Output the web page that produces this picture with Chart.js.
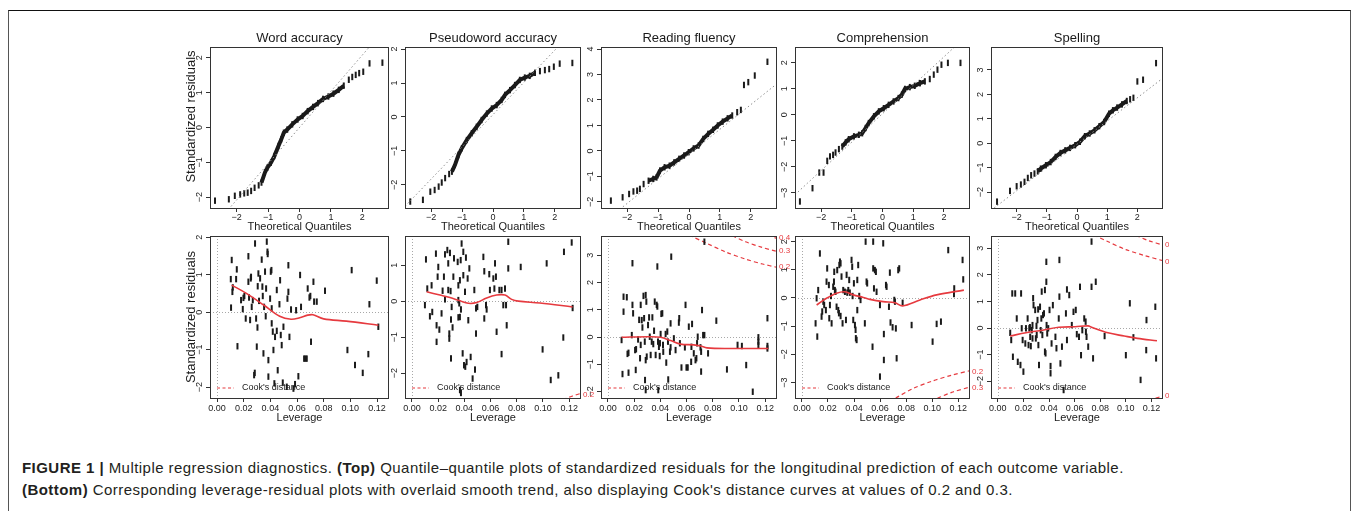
<!DOCTYPE html>
<html>
<head>
<meta charset="utf-8">
<script src="https://cdn.jsdelivr.net/npm/chart.js@4.4.0/dist/chart.umd.min.js"></script>
<style>
  body { margin: 0; background: #fff; width: 1358px; height: 511px; overflow: hidden; position: relative;
         font-family: 'Liberation Sans', Arial, Helvetica, sans-serif; }
  .frame { position: absolute; left: 8px; top: 10px; width: 1343px; height: 520px; box-sizing: border-box;
           border: 1px solid #555; border-top: 1px solid #111; }
  .caption { position: absolute; left: 22px; top: 457px; font-size: 15px; letter-spacing: 0.45px; line-height: 22px; color: #231f20; white-space: nowrap; }
  .caption b { font-weight: bold; }
  canvas { position: absolute; }
</style>
</head>
<body>
<div class="frame"></div>
<div class="caption">
  <b>FIGURE 1 |</b> Multiple regression diagnostics. <b>(Top)</b> Quantile–quantile plots of standardized residuals for the longitudinal prediction of each outcome variable.<br>
  <b>(Bottom)</b> Corresponding leverage-residual plots with overlaid smooth trend, also displaying Cook's distance curves at values of 0.2 and 0.3.
</div>
<script>
// ---- data ----
const outcomes = ['Word accuracy', 'Pseudoword accuracy', 'Reading fluency', 'Comprehension', 'Spelling'];

const qqXTicks = [-2, -1, 0, 1, 2];
const qqXLimits = [-2.85, 2.85];
const qqYTicks = [[-2, -1, 0, 1, 2], [-2, -1, 0, 1, 2], [-2, -1, 0, 1, 2, 3, 4], [-3, -2, -1, 0, 1, 2], [-2, -1, 0, 1, 2, 3]];
const qqYLimits = [[-2.31, 2.31], [-2.68, 2.06], [-2.24, 4.08], [-3.58, 2.6], [-2.65, 3.94]];

const levXTicks = [0, 0.02, 0.04, 0.06, 0.08, 0.10, 0.12];
const levXLimits = [-0.0053, 0.129];
const levYTicks = [[-2, -1, 0, 1, 2], [-2, -1, 0, 1], [-2, -1, 0, 1, 2, 3], [-3, -2, -1, 0, 1, 2], [-2, -1, 0, 1, 2, 3]];
const levYLimits = [[-2.29, 2.03], [-2.69, 1.81], [-2.24, 3.71], [-3.55, 2.2], [-2.63, 3.46]];

// theoretical quantile, standardized residual
const qqWord = [[-2.69,-2.1],[-2.25,-2.06],[-2.06,-1.96],[-1.89,-1.92],[-1.76,-1.89],[-1.65,-1.87],[-1.54,-1.82],[-1.43,-1.73],[-1.30,-1.66],[-1.21,-1.58],[-1.10,-1.29],[-1.02,-1.15],[-0.91,-1.01],[-0.80,-0.82],[-0.67,-0.53],[-0.58,-0.34],[-0.50,-0.15],[-0.39,-0.06],[-0.23,0.09],[-0.06,0.23],[0.10,0.33],[0.26,0.47],[0.43,0.59],[0.59,0.70],[0.75,0.82],[0.92,0.89],[1.08,0.97],[1.25,1.08],[1.41,1.20],[1.57,1.37],[1.68,1.45],[1.79,1.51],[1.90,1.56],[2.03,1.60],[2.23,1.84],[2.64,1.86]];
const qqPseudo = [[-2.68,-2.49],[-2.27,-2.44],[-2.03,-2.20],[-1.89,-2.15],[-1.76,-2.05],[-1.66,-1.93],[-1.55,-1.80],[-1.42,-1.68],[-1.33,-1.61],[-1.23,-1.41],[-1.12,-1.12],[-1.01,-0.92],[-0.85,-0.68],[-0.69,-0.48],[-0.53,-0.29],[-0.37,-0.09],[-0.20,0.10],[-0.04,0.25],[0.12,0.35],[0.28,0.50],[0.39,0.65],[0.55,0.79],[0.71,0.94],[0.87,1.09],[1.03,1.16],[1.19,1.21],[1.36,1.30],[1.52,1.35],[1.68,1.38],[1.82,1.41],[1.97,1.48],[2.16,1.57],[2.57,1.59]];
const qqFluency = [[-2.53,-1.95],[-2.15,-1.82],[-1.94,-1.69],[-1.80,-1.59],[-1.68,-1.56],[-1.59,-1.49],[-1.47,-1.30],[-1.31,-1.17],[-1.16,-1.10],[-1.05,-1.04],[-0.94,-0.77],[-0.79,-0.64],[-0.63,-0.58],[-0.48,-0.45],[-0.32,-0.31],[-0.16,-0.18],[-0.01,-0.05],[0.15,0.10],[0.31,0.21],[0.46,0.47],[0.62,0.67],[0.78,0.83],[0.93,1.00],[1.09,1.15],[1.25,1.28],[1.40,1.39],[1.56,1.52],[1.68,1.61],[1.78,2.59],[1.92,2.70],[2.13,2.96],[2.54,3.50]];
const qqComp = [[-2.69,-3.33],[-2.28,-2.82],[-2.06,-2.22],[-1.92,-2.22],[-1.80,-1.77],[-1.71,-1.60],[-1.61,-1.54],[-1.53,-1.45],[-1.42,-1.32],[-1.31,-1.22],[-1.20,-1.06],[-1.10,-0.94],[-0.93,-0.83],[-0.77,-0.77],[-0.66,-0.71],[-0.55,-0.51],[-0.45,-0.32],[-0.28,-0.06],[-0.12,0.13],[0.04,0.25],[0.20,0.38],[0.36,0.51],[0.52,0.64],[0.63,0.77],[0.73,0.99],[0.89,1.06],[1.05,1.11],[1.22,1.21],[1.38,1.28],[1.54,1.37],[1.67,1.54],[1.79,1.73],[1.92,1.92],[2.13,1.99],[2.54,1.99]];
const qqSpell = [[-2.65,-2.39],[-2.22,-1.95],[-2.00,-1.76],[-1.86,-1.69],[-1.74,-1.58],[-1.63,-1.42],[-1.52,-1.31],[-1.41,-1.24],[-1.30,-1.15],[-1.20,-1.04],[-1.03,-0.90],[-0.87,-0.77],[-0.71,-0.56],[-0.55,-0.40],[-0.39,-0.29],[-0.23,-0.19],[-0.06,-0.08],[0.10,0.06],[0.26,0.29],[0.42,0.40],[0.58,0.53],[0.74,0.70],[0.90,0.87],[1.06,1.21],[1.19,1.35],[1.33,1.46],[1.49,1.59],[1.65,1.73],[1.76,1.80],[1.87,1.86],[2.00,2.53],[2.19,2.60],[2.62,3.28]];
// stretch of each Q-Q curve where the points merge into a solid trace
const qqDense = [[-1.22, 1.45], [-1.34, 1.40], [-1.32, 1.45], [-1.32, 1.40], [-1.32, 1.68]];
// qq reference lines (end points)
const qqRefWord = [[-2.85, -2.96], [2.85, 2.96]];
const qqRefPseudo = [[-2.85, -2.63], [2.85, 2.77]];
const qqRefFluency = [[-2.85, -2.88], [2.85, 2.64]];
const qqRefComp = [[-2.85, -3.07], [2.85, 3.15]];
const qqRefSpell = [[-2.85, -2.75], [2.85, 2.67]];

// leverage, standardized residual
const levWord = [[0.0103,0.88],[0.011,1.39],[0.0115,0.54],[0.0118,0.66],[0.0105,0.12],[0.0143,0.88],[0.0148,1.14],[0.0153,-0.91],[0.018,0.32],[0.0193,0.08],[0.0198,0.38],[0.0205,0.43],[0.0215,-0.17],[0.0235,1.49],[0.0235,0.81],[0.024,0.39],[0.0248,-0.21],[0.0253,0.9],[0.0255,0.94],[0.026,0.14],[0.0268,0.32],[0.0278,-1.68],[0.0283,-1.62],[0.0285,1.83],[0.0293,-0.17],[0.0298,-0.92],[0.0303,-0.41],[0.0305,0.69],[0.031,1.03],[0.0315,0.3],[0.0323,0.9],[0.0335,1.4],[0.034,0.68],[0.0343,0.43],[0.0348,-1.1],[0.0353,0.14],[0.036,1.08],[0.0365,-0.11],[0.0368,0.63],[0.0373,1.88],[0.0378,1.61],[0.038,1.55],[0.0385,-1.72],[0.0385,-1.28],[0.0398,0.36],[0.0403,1.08],[0.0408,1.12],[0.041,0.1],[0.041,-0.3],[0.0418,-0.52],[0.0423,-1.01],[0.043,-1.9],[0.0435,-0.66],[0.0448,-0.5],[0.0448,0.59],[0.0455,-1.55],[0.0468,0.21],[0.0473,0.85],[0.0478,-0.61],[0.0485,-0.88],[0.0493,-1.88],[0.0498,-0.39],[0.0523,-1.99],[0.0528,0.36],[0.0535,1.25],[0.0535,0.54],[0.0543,-0.66],[0.0555,0.07],[0.0573,-2.04],[0.0585,-1.92],[0.0593,0.05],[0.061,-1.71],[0.0623,0.99],[0.063,0.14],[0.0653,-1.24],[0.0663,-1.24],[0.0673,-1.24],[0.068,0.63],[0.0693,0.39],[0.07,0.43],[0.0705,-0.79],[0.0723,0.81],[0.0728,0.28],[0.0748,0.28],[0.081,0.57],[0.0978,-1.01],[0.101,1.12],[0.1035,-1.41],[0.1093,-1.62],[0.1135,-1.12],[0.1143,0.21],[0.1198,0.84],[0.121,-0.39]];
const levPseudo = [[0.0099,-0.11],[0.0107,1.16],[0.0117,0.35],[0.015,0.44],[0.0137,-0.42],[0.0155,-0.3],[0.0183,1.32],[0.0188,-0.67],[0.0188,-1.13],[0.0196,0.68],[0.0201,0.95],[0.0209,-0.79],[0.0226,-0.34],[0.0234,0.29],[0.0244,0.68],[0.0252,1.3],[0.0252,0.05],[0.027,1.42],[0.0277,1.05],[0.0277,0.31],[0.0285,-0.9],[0.0285,-1.04],[0.029,1.34],[0.0295,0.28],[0.0298,-0.51],[0.0303,-0.16],[0.0298,-1.59],[0.031,-0.73],[0.0316,0.68],[0.0321,1.19],[0.0349,1.09],[0.0354,0.44],[0.0354,0.03],[0.0354,-0.45],[0.0361,-0.06],[0.0366,0.58],[0.0366,-0.44],[0.0372,1.14],[0.0374,-0.23],[0.0379,1.6],[0.0387,-1.45],[0.0392,1.37],[0.0392,0.72],[0.0397,-1.78],[0.0405,0.26],[0.0407,-1.82],[0.0412,1.21],[0.0417,-1.69],[0.0425,0.63],[0.043,-0.53],[0.0438,0.91],[0.0366,-2.47],[0.0374,-2.55],[0.0448,-1.55],[0.0463,-2.15],[0.0476,0.31],[0.0481,-1.9],[0.0489,-0.2],[0.0499,-0.16],[0.0489,-0.9],[0.0545,1.23],[0.0552,0.83],[0.0552,-0.48],[0.0565,-0.11],[0.057,-0.23],[0.059,0.75],[0.0595,0.31],[0.0621,0.63],[0.0629,0.35],[0.0634,1.05],[0.0641,0.68],[0.0646,-0.85],[0.0667,0.31],[0.0684,-1.47],[0.0684,0.31],[0.0697,-0.11],[0.071,0.35],[0.0718,-0.11],[0.0723,-0.67],[0.0735,1.65],[0.0735,0.91],[0.083,0.95],[0.0997,-1.34],[0.1028,1.05],[0.1059,-2.19],[0.1117,-2.06],[0.1155,-1.01],[0.116,1.37],[0.1219,1.63],[0.1226,-0.19]];
const levFluency = [[0.0104,-0.11],[0.0111,-1.36],[0.0119,0.93],[0.0119,1.48],[0.0144,1.46],[0.0149,-0.62],[0.0157,-0.58],[0.0157,-1.31],[0.0182,0.07],[0.0187,2.71],[0.0187,1.18],[0.0192,0.87],[0.0207,-0.48],[0.0215,-0.45],[0.0212,-1.21],[0.023,-0.09],[0.0238,0.63],[0.0245,-0.78],[0.025,-0.29],[0.025,1.18],[0.0258,0.62],[0.0263,0.35],[0.0271,1.51],[0.0276,0.69],[0.0281,-0.17],[0.0288,-0.85],[0.0288,1.54],[0.0293,1.3],[0.0296,-0.72],[0.0283,-1.58],[0.0288,-1.95],[0.0306,0.44],[0.0314,0.72],[0.0319,0.01],[0.0326,-0.66],[0.0334,-0.17],[0.0339,0.72],[0.0346,-0.26],[0.0352,0.23],[0.0357,1.3],[0.0364,-0.66],[0.0372,1.18],[0.0377,1.12],[0.0377,2.59],[0.0382,-0.17],[0.0384,-1.95],[0.0389,-0.36],[0.0395,-0.7],[0.0397,-0.23],[0.0402,0.11],[0.0407,0.85],[0.0415,0.87],[0.042,-0.29],[0.0422,-0.54],[0.044,0.11],[0.0445,-0.94],[0.0453,0.2],[0.0458,-0.17],[0.046,-1.56],[0.0473,-0.54],[0.0478,-0.38],[0.0478,0.5],[0.0483,2.95],[0.0503,-0.05],[0.0516,-0.48],[0.0541,0.53],[0.0544,0.69],[0.0549,-0.23],[0.0561,-1.12],[0.0587,-0.38],[0.0592,1.18],[0.0599,-1.12],[0.0609,-1.12],[0.0617,0.38],[0.0635,-0.91],[0.0637,-0.36],[0.0642,0.48],[0.0655,-0.6],[0.0668,-0.85],[0.0675,-0.78],[0.068,-0.23],[0.0685,0.01],[0.0706,-0.38],[0.0711,-0.54],[0.0711,-1.27],[0.0718,0.99],[0.0726,0.07],[0.0736,0.07],[0.0736,3.5],[0.0764,-0.6],[0.0827,0.6],[0.0908,-1.19],[0.0989,-0.29],[0.1022,-0.33],[0.1055,-1.03],[0.1105,-2.01],[0.1148,-0.01],[0.1148,-0.17],[0.1148,-0.29],[0.1217,0.69],[0.1217,-0.42],[0.1217,-0.33]];
const levComp = [[0.0105,-0.9],[0.0113,-0.01],[0.0118,-1.37],[0.0125,0.28],[0.0138,1.58],[0.0151,-0.66],[0.0156,-0.48],[0.0164,-0.13],[0.0171,-0.25],[0.0184,-0.43],[0.0189,0.58],[0.0194,1.05],[0.0207,0.46],[0.021,-0.72],[0.0215,-0.25],[0.0223,0.07],[0.0228,-0.9],[0.024,0.4],[0.0246,0.58],[0.0248,0.93],[0.0253,0.28],[0.0258,0.22],[0.0266,-0.31],[0.0271,0.99],[0.0279,-0.43],[0.0284,-0.54],[0.0287,1.17],[0.0292,1.29],[0.0297,1.23],[0.0297,-0.64],[0.0304,0.76],[0.0312,-0.9],[0.0317,0.28],[0.033,0.22],[0.0338,-0.78],[0.0343,0.82],[0.0348,0.19],[0.0356,0.28],[0.0363,0.64],[0.0368,0.19],[0.0381,1.35],[0.0386,1.11],[0.0389,0.07],[0.0394,-0.78],[0.0399,0.52],[0.0407,-0.96],[0.0412,-1.13],[0.0414,-1.43],[0.042,-1.49],[0.0425,-0.43],[0.0425,0.64],[0.0432,1.17],[0.044,0.07],[0.045,-0.07],[0.0483,-0.9],[0.0489,2.0],[0.0496,0.58],[0.0501,0.52],[0.0542,-1.73],[0.0547,2.0],[0.0547,1.05],[0.0553,0.34],[0.056,0.99],[0.0568,0.93],[0.0573,0.22],[0.0599,-0.25],[0.0599,-2.79],[0.0624,1.94],[0.0629,-1.28],[0.0629,-2.2],[0.0645,0.46],[0.065,0.4],[0.0668,-0.31],[0.0675,0.9],[0.068,-0.87],[0.0696,-1.04],[0.0709,-0.07],[0.0714,-0.13],[0.0721,-1.08],[0.0727,-2.14],[0.0739,0.99],[0.0747,1.05],[0.0773,-0.17],[0.0842,-0.96],[0.1003,-1.55],[0.1034,-0.92],[0.1067,-0.84],[0.1123,1.7],[0.1167,0.14],[0.1169,0.34],[0.1233,1.35],[0.1238,0.66]];
const levSpell = [[0.0097,-0.18],[0.0105,-0.45],[0.0113,1.3],[0.0118,-1.08],[0.0136,1.3],[0.0148,0.36],[0.0156,-1.27],[0.0177,-1.39],[0.0182,1.3],[0.0187,-0.01],[0.0194,-0.45],[0.02,-1.64],[0.0215,-0.58],[0.022,-0.01],[0.0233,0.36],[0.024,-0.64],[0.0246,-0.01],[0.0251,0.03],[0.0253,-0.33],[0.0258,-0.68],[0.0266,-0.08],[0.0271,0.11],[0.0271,-0.39],[0.0276,1.12],[0.0279,0.86],[0.0292,0.68],[0.0297,-0.39],[0.0302,0.08],[0.0304,-0.26],[0.031,0.3],[0.0315,0.7],[0.0317,-0.64],[0.0322,-1.39],[0.033,0.8],[0.0335,-0.08],[0.034,0.36],[0.0343,1.37],[0.0348,-0.26],[0.0353,0.49],[0.0361,0.55],[0.0368,-0.89],[0.0368,1.43],[0.0373,-0.95],[0.0379,2.49],[0.0379,1.74],[0.0381,0.11],[0.0386,-0.2],[0.0394,-0.01],[0.0404,0.68],[0.0412,-1.43],[0.0412,-1.7],[0.042,-0.58],[0.043,0.86],[0.045,-0.33],[0.0458,-0.76],[0.0476,0.36],[0.0481,2.56],[0.0481,1.18],[0.0489,-1.33],[0.0501,-0.7],[0.0514,-2.33],[0.0532,0.55],[0.054,1.45],[0.054,-0.45],[0.0558,1.24],[0.0578,0.11],[0.0591,0.61],[0.0609,0.68],[0.0617,-0.23],[0.0634,-0.33],[0.0642,1.55],[0.065,-1.02],[0.066,-0.08],[0.0675,0.36],[0.0686,0.24],[0.0688,-0.14],[0.0693,-0.33],[0.0706,-0.7],[0.0732,1.55],[0.0732,3.25],[0.0744,-1.14],[0.0765,1.74],[0.0834,-0.3],[0.1,-1.02],[0.1031,0.93],[0.1059,-0.35],[0.1115,-1.95],[0.1159,-0.83],[0.1161,0.3],[0.123,0.8],[0.1236,-1.14]];

// smooth trend (red)
const smoothWord = [[0.011,0.72],[0.022,0.5],[0.035,0.19],[0.047,-0.11],[0.0555,-0.19],[0.062,-0.15],[0.068,-0.08],[0.072,-0.07],[0.08,-0.18],[0.097,-0.24],[0.121,-0.35]];
const smoothPseudo = [[0.0112,0.26],[0.0214,0.17],[0.029,0.1],[0.0366,0.01],[0.043,-0.06],[0.0494,-0.04],[0.057,0.09],[0.0646,0.17],[0.071,0.17],[0.0761,0.05],[0.0812,0.0],[0.0977,-0.05],[0.1226,-0.16]];
const smoothFluency = [[0.0104,-0.01],[0.0301,0.01],[0.0402,-0.01],[0.0478,-0.13],[0.0554,-0.26],[0.0655,-0.29],[0.0706,-0.33],[0.0756,-0.4],[0.0933,-0.42],[0.1224,-0.42]];
const smoothComp = [[0.0113,-0.25],[0.0189,-0.01],[0.0266,0.17],[0.033,0.22],[0.0394,0.11],[0.0471,0.02],[0.0522,-0.05],[0.0624,-0.13],[0.0714,-0.17],[0.0773,-0.28],[0.0906,-0.07],[0.1034,0.11],[0.1243,0.28]];
const smoothSpell = [[0.0097,-0.3],[0.022,-0.18],[0.0348,-0.08],[0.0476,0.03],[0.0604,0.05],[0.0706,0.08],[0.0732,0.03],[0.086,-0.18],[0.0987,-0.3],[0.109,-0.39],[0.1243,-0.48]];

// visible pieces of the Cook's distance contours, and their labels
const cookWord = [];
const cookPseudo = [[[0.115,-2.74],[0.122,-2.64],[0.129,-2.56]]];
const cookFluency = [[[0.062,3.74],[0.075,3.45],[0.09,3.12],[0.105,2.86],[0.118,2.68],[0.129,2.56]], [[0.095,3.72],[0.105,3.5],[0.117,3.3],[0.129,3.14]], [[0.122,3.74],[0.129,3.62]]];
const cookComp = [[[0.072,-3.55],[0.085,-3.22],[0.1,-2.95],[0.115,-2.74],[0.129,-2.58]], [[0.104,-3.56],[0.115,-3.35],[0.129,-3.16]]];
const cookSpell = [[[0.075,3.5],[0.085,3.27],[0.1,2.95],[0.115,2.72],[0.129,2.53]], [[0.108,3.48],[0.118,3.28],[0.129,3.12]], [[0.118,-2.72],[0.129,-2.55]]];
const cookLabelsWord = [];
const cookLabelsPseudo = [['0.2', -2.6]];
const cookLabelsFluency = [['0.2', 2.57], ['0.3', 3.16], ['0.4', 3.65]];
const cookLabelsComp = [['0.2', -2.62], ['0.3', -3.18]];
const cookLabelsSpell = [['0.2', 2.5], ['0.3', 3.12], ['0.2', -2.55]];

const qqSets = [qqWord, qqPseudo, qqFluency, qqComp, qqSpell];
const qqRefs = [qqRefWord, qqRefPseudo, qqRefFluency, qqRefComp, qqRefSpell];
const levSets = [levWord, levPseudo, levFluency, levComp, levSpell];
const smoothSets = [smoothWord, smoothPseudo, smoothFluency, smoothComp, smoothSpell];
const cookSets = [cookWord, cookPseudo, cookFluency, cookComp, cookSpell];
const cookLabelSets = [cookLabelsWord, cookLabelsPseudo, cookLabelsFluency, cookLabelsComp, cookLabelsSpell];

// ---- layout ----
const FONT = "'Liberation Sans', Arial, Helvetica, sans-serif";
const RED = '#e63a3f';
const INK = '#1a1a1a';
const boxLeft = [210, 405, 601, 795, 991];
const boxRight = [389, 581, 777, 970, 1166];
const rowTop = [47, 236];
const rowBottom = [208, 398];
const PAD_L = 45, PAD_T = 25, PAD_B = 40;
const padRight = [25, 25, 25, 25, 3];

function fmtMinus(v) {
  return v < 0 ? '\u2212' + Math.abs(v) : String(v);
}

function decorPlugin(info) {
  return {
    id: 'decor',
    beforeDatasetsDraw(chart) {
      if (!info.zeroLines) return;
      const { ctx, chartArea: a, scales } = chart;
      const y0 = scales.y.getPixelForValue(0);
      const x0 = scales.x.getPixelForValue(0);
      ctx.save();
      ctx.strokeStyle = '#a8a8a8';
      ctx.lineWidth = 1;
      ctx.setLineDash([1, 2]);
      ctx.beginPath();
      ctx.moveTo(a.left, Math.round(y0) + 0.5); ctx.lineTo(a.right, Math.round(y0) + 0.5);
      ctx.moveTo(Math.round(x0) + 0.5, a.top); ctx.lineTo(Math.round(x0) + 0.5, a.bottom);
      ctx.stroke();
      ctx.restore();
    },
    afterDatasetsDraw(chart) {
      const { ctx, chartArea: a, scales } = chart;
      ctx.save();
      // plot box
      ctx.strokeStyle = '#333';
      ctx.lineWidth = 1;
      ctx.strokeRect(Math.round(a.left) + 0.5, Math.round(a.top) + 0.5, Math.round(a.right - a.left) - 1, Math.round(a.bottom - a.top));
      // panel title, centred over the plot box
      if (info.title) {
        ctx.font = '13px ' + FONT;
        ctx.fillStyle = INK;
        ctx.textAlign = 'center';
        ctx.textBaseline = 'middle';
        ctx.fillText(info.title, (a.left + a.right) / 2, a.top - 9);
      }
      // rotated y tick labels
      ctx.fillStyle = '#222';
      ctx.font = '9px ' + FONT;
      ctx.textAlign = 'center';
      ctx.textBaseline = 'middle';
      info.yTicks.forEach(v => {
        const y = scales.y.getPixelForValue(v);
        ctx.save();
        ctx.translate(a.left - 10, y);
        ctx.rotate(-Math.PI / 2);
        ctx.fillText(fmtMinus(v), 0, 0);
        ctx.restore();
      });
      // y axis title on the first column
      if (info.yTitle) {
        ctx.save();
        ctx.font = '13px ' + FONT;
        ctx.fillStyle = INK;
        ctx.translate(a.left - 18.5, (a.top + a.bottom) / 2 + info.yTitleShift);
        ctx.rotate(-Math.PI / 2);
        ctx.fillText(info.yTitle, 0, 0);
        ctx.restore();
      }
      // Cook's distance labels at the right edge
      if (info.cookLabels) {
        ctx.font = '8px ' + FONT;
        ctx.fillStyle = RED;
        ctx.textAlign = 'left';
        info.cookLabels.forEach(([txt, r]) => {
          const y = scales.y.getPixelForValue(r);
          if (y < a.top - 2 || y > a.bottom + 2) return;
          ctx.fillText(txt, a.right + 2, y);
        });
      }
      // legend
      if (info.legend) {
        const ly = a.bottom - 10;
        ctx.strokeStyle = RED;
        ctx.lineWidth = 1.2;
        ctx.setLineDash([3, 2.5]);
        ctx.beginPath();
        ctx.moveTo(a.left + 7, ly); ctx.lineTo(a.left + 24, ly);
        ctx.stroke();
        ctx.setLineDash([]);
        ctx.font = '9px ' + FONT;
        ctx.fillStyle = INK;
        ctx.textAlign = 'left';
        ctx.fillText("Cook's distance", a.left + 32, ly);
      }
      ctx.restore();
    }
  };
}

function makePanel(row, col, cfg) {
  const w = boxRight[col] - boxLeft[col];
  const h = rowBottom[row] - rowTop[row];
  const W = w + PAD_L + padRight[col];
  const H = h + PAD_T + PAD_B;
  const cv = document.createElement('canvas');
  cv.width = W; cv.height = H;
  cv.style.left = (boxLeft[col] - PAD_L) + 'px';
  cv.style.top = (rowTop[row] - PAD_T) + 'px';
  cv.style.width = W + 'px';
  cv.style.height = H + 'px';
  document.body.appendChild(cv);

  const gridOpts = { display: true, drawOnChartArea: false, drawTicks: true, tickLength: 4, color: '#333', lineWidth: 1 };

  new Chart(cv, {
    type: 'scatter',
    data: { datasets: cfg.datasets },
    options: {
      responsive: false,
      animation: false,
      events: [],
      layout: { padding: { top: PAD_T, right: padRight[col], left: 0, bottom: 0 } },
      plugins: {
        legend: { display: false },
        tooltip: { enabled: false },
        title: { display: false }
      },
      scales: {
        x: {
          type: 'linear', position: 'bottom',
          min: cfg.xLimits[0], max: cfg.xLimits[1],
          afterBuildTicks: s => { s.ticks = cfg.xTicks.map(v => ({ value: v })); },
          afterFit: s => { s.height = PAD_B; },
          grid: gridOpts,
          border: { display: false },
          ticks: {
            font: { family: FONT, size: 9 }, color: '#222',
            padding: row === 0 ? 0.5 : 1.5,
            maxRotation: 0, minRotation: 0, autoSkip: false,
            callback: cfg.xFormat
          },
          title: {
            display: true, text: cfg.xTitle, color: INK,
            font: { family: FONT, size: 11, lineHeight: 1 },
            padding: { top: 0, bottom: row === 0 ? 16 : 15 }
          }
        },
        y: {
          type: 'linear', position: 'left',
          min: cfg.yLimits[0], max: cfg.yLimits[1],
          afterBuildTicks: s => { s.ticks = cfg.yTicks.map(v => ({ value: v })); },
          afterFit: s => { s.width = PAD_L; },
          grid: gridOpts,
          border: { display: false },
          ticks: { display: false }
        }
      }
    },
    plugins: [decorPlugin({
      title: row === 0 ? cfg.title : null,
      yTicks: cfg.yTicks,
      yTitle: col === 0 ? 'Standardized residuals' : null,
      yTitleShift: row === 0 ? -11 : 0,
      zeroLines: row === 1,
      legend: row === 1,
      cookLabels: cfg.cookLabels
    })]
  });
}

const markerStyle = {
  pointStyle: 'line',
  pointRotation: 90,
  pointRadius: 3.2,
  pointBorderWidth: 2,
  pointBorderColor: INK,
  pointBackgroundColor: INK
};

// top row: normal Q-Q plots
outcomes.forEach((name, i) => {
  const band = qqDense[i];
  makePanel(0, i, {
    title: name,
    xTitle: 'Theoretical Quantiles',
    xLimits: qqXLimits, xTicks: qqXTicks, xFormat: v => fmtMinus(v),
    yLimits: qqYLimits[i], yTicks: qqYTicks[i],
    datasets: [
      { data: qqRefs[i], showLine: true, borderColor: '#8f8f8f', borderWidth: 1, borderDash: [1.5, 2.5], pointRadius: 0 },
      Object.assign({
        data: qqSets[i], showLine: true, borderColor: INK, borderWidth: 4, tension: 0,
        segment: {
          borderColor: c => (c.p0.parsed.x >= band[0] && c.p1.parsed.x <= band[1]) ? INK : 'rgba(0,0,0,0)'
        }
      }, markerStyle)
    ]
  });
});

// bottom row: residuals vs leverage
outcomes.forEach((name, i) => {
  const datasets = [
    { data: smoothSets[i], showLine: true, borderColor: RED, borderWidth: 1.6, tension: 0.35, pointRadius: 0 },
    Object.assign({ data: levSets[i], showLine: false }, markerStyle)
  ];
  cookSets[i].forEach(curve => {
    datasets.push({ data: curve, showLine: true, borderColor: RED, borderWidth: 1.2, borderDash: [4, 3], tension: 0.3, pointRadius: 0 });
  });
  makePanel(1, i, {
    title: name,
    xTitle: 'Leverage',
    xLimits: levXLimits, xTicks: levXTicks, xFormat: v => v.toFixed(2),
    yLimits: levYLimits[i], yTicks: levYTicks[i],
    cookLabels: cookLabelSets[i],
    datasets
  });
});
</script>
</body>
</html>
